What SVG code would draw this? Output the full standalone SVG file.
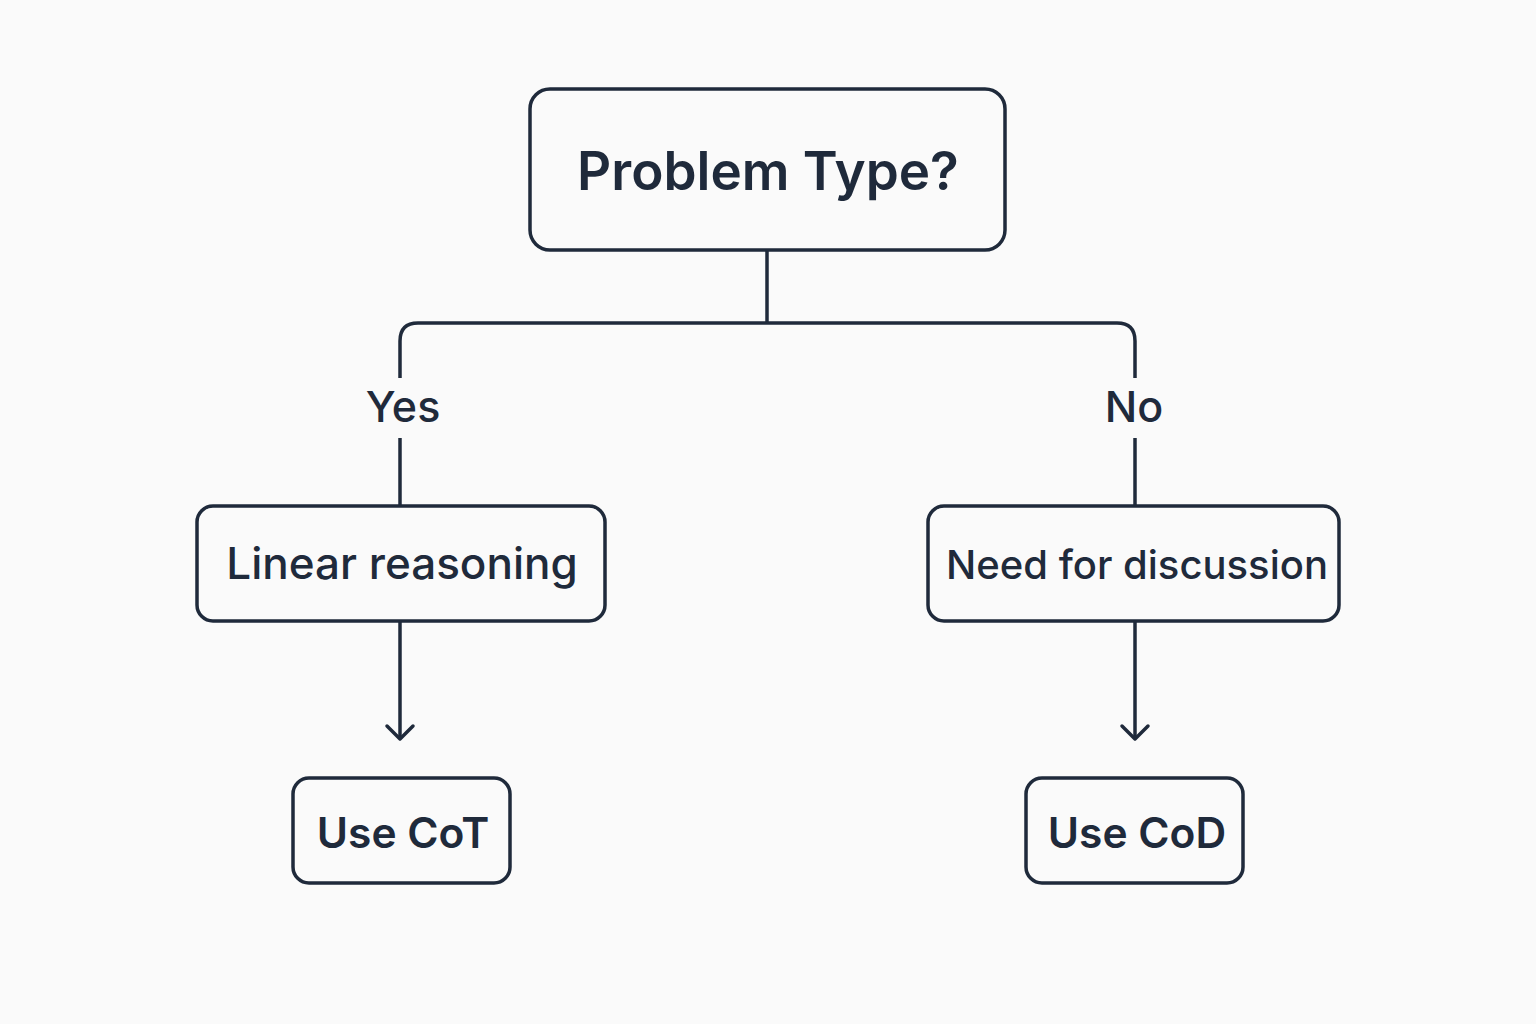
<svg xmlns="http://www.w3.org/2000/svg" width="1536" height="1024" viewBox="0 0 1536 1024">
<defs>
<style>
.box{fill:#fafafa;stroke:#1f2a3b;stroke-width:3.5}
.ln{fill:none;stroke:#1f2a3b;stroke-width:3.5;stroke-linecap:butt}
.hd{fill:none;stroke:#1f2a3b;stroke-width:3.5;stroke-linecap:round;stroke-linejoin:round}
.t{font-family:Inter,"Noto Sans",sans-serif;fill:#1f2a3b;text-anchor:middle}
</style>
</defs>
<rect width="1536" height="1024" fill="#fafafa"/>
<g id="connectors">
<path class="ln" d="M767 250 V323"/>
<path class="ln" d="M400 378 V341 Q400 323 418 323 H1117 Q1135 323 1135 341 V378"/>
<path class="ln" d="M400 438 V506"/>
<path class="ln" d="M1135 438 V506"/>
<path class="ln" d="M400 621 V738"/>
<path class="hd" d="M387 726 L400 739 L413 726"/>
<path class="ln" d="M1135 621 V738"/>
<path class="hd" d="M1122 726 L1135 739 L1148 726"/>
<text class="t" x="403" y="422" font-size="43" font-weight="500">Yes</text>
<text class="t" x="1134" y="422" font-size="43" font-weight="500">No</text>
</g>
<g id="node-problem">
<rect class="box" x="530" y="89" width="475" height="161" rx="20"/>
<text class="t" x="768" y="190" font-size="53" font-weight="600">Problem Type?</text>
</g>
<g id="node-linear">
<rect class="box" x="197" y="506" width="408" height="115" rx="16"/>
<text class="t" x="402" y="579" font-size="44" font-weight="500">Linear reasoning</text>
</g>
<g id="node-discussion">
<rect class="box" x="928" y="506" width="411" height="115" rx="16"/>
<text class="t" x="1137" y="579" font-size="40" font-weight="500">Need for discussion</text>
</g>
<g id="node-cot">
<rect class="box" x="293" y="778" width="217" height="105" rx="16"/>
<text class="t" x="403" y="848" font-size="42.5" font-weight="600">Use CoT</text>
</g>
<g id="node-cod">
<rect class="box" x="1026" y="778" width="217" height="105" rx="16"/>
<text class="t" x="1137" y="848" font-size="42.5" font-weight="600">Use CoD</text>
</g>
</svg>
